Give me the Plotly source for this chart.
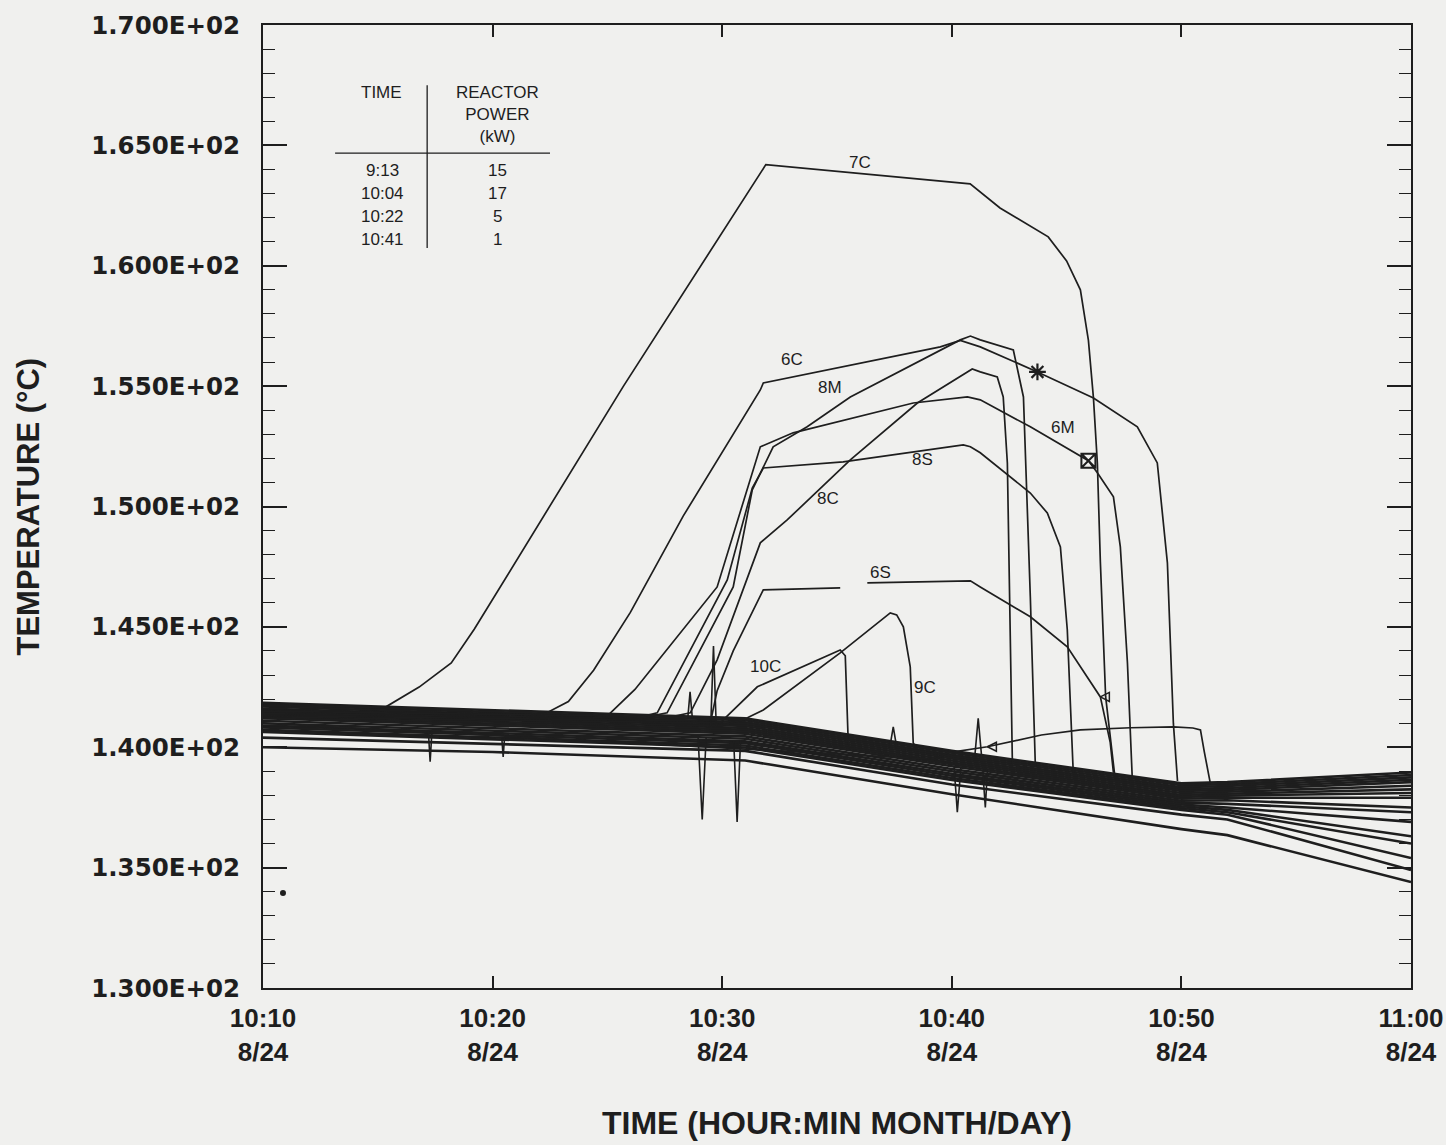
import plotly.graph_objects as go

# ---------------- data (minutes after 10:10, temperature in deg C) ----------------
tick_minutes = [0, 10, 20, 30, 40, 50]
tick_labels = ["10:10<br>8/24", "10:20<br>8/24", "10:30<br>8/24",
               "10:40<br>8/24", "10:50<br>8/24", "11:00<br>8/24"]
y_tick_values = [130, 135, 140, 145, 150, 155, 160, 165, 170]
y_tick_labels = ["1.300E+02", "1.350E+02", "1.400E+02", "1.450E+02", "1.500E+02",
                 "1.550E+02", "1.600E+02", "1.650E+02", "1.700E+02"]

# thermocouples that stay near the bulk temperature
TB = [0, 10, 21, 30, 40, 42, 50]
band_01 = [141.85, 141.55, 141.20, 139.85, 138.50, 138.55, 138.95]
band_02 = [141.77, 141.47, 141.12, 139.77, 138.42, 138.47, 138.85]
band_03 = [141.69, 141.39, 141.04, 139.69, 138.34, 138.39, 138.75]
band_04 = [141.61, 141.31, 140.96, 139.61, 138.26, 138.31, 138.65]
band_05 = [141.53, 141.23, 140.88, 139.53, 138.18, 138.23, 138.55]
band_06 = [141.45, 141.15, 140.80, 139.45, 138.10, 138.15, 138.40]
band_07 = [141.37, 141.07, 140.72, 139.37, 138.02, 138.07, 138.25]
band_08 = [141.29, 140.99, 140.64, 139.29, 137.94, 137.99, 138.10]
band_09 = [141.21, 140.91, 140.56, 139.21, 137.86, 137.90, 137.90]
band_10 = [141.10, 140.80, 140.45, 139.10, 137.78, 137.80, 137.50]
band_11 = [141.00, 140.70, 140.35, 139.00, 137.70, 137.65, 137.30]
band_12 = [140.90, 140.60, 140.25, 138.90, 137.62, 137.50, 136.90]
band_13 = [140.82, 140.52, 140.17, 138.82, 137.55, 137.40, 136.30]
band_14 = [140.72, 140.42, 140.07, 138.72, 137.48, 137.30, 136.00]
band_15 = [140.64, 140.34, 139.99, 138.64, 137.40, 137.20, 135.40]
band_16 = [140.40, 140.15, 139.85, 138.45, 137.20, 137.00, 134.90]
band_17 = [140.00, 139.80, 139.45, 138.05, 136.60, 136.35, 134.40]

# labelled thermocouples
t_7C = [0, 5.3, 6.8, 8.2, 9.2, 14.7, 15.7, 21.9, 30.8, 32.1, 34.2, 35.0, 35.6, 35.95, 36.17, 36.34, 36.47, 36.7, 37.1]
T_7C = [141.75, 141.65, 142.5, 143.5, 144.9, 153.4, 155.0, 164.2, 163.4, 162.4, 161.2, 160.2, 159.0, 156.9, 154.5, 151.8, 147.7, 142.1, 138.8]

t_6C = [0, 12.2, 13.3, 14.4, 16.0, 18.3, 21.66, 21.79, 29.5, 30.37, 31.24, 33.73, 36.17, 38.08, 38.95, 39.39, 39.65, 39.83]
T_6C = [141.55, 141.35, 141.9, 143.2, 145.6, 149.6, 154.84, 155.13, 156.63, 156.9, 156.63, 155.59, 154.51, 153.31, 151.81, 147.66, 141.0, 138.6]

t_8M = [0, 16.4, 17.6, 20.48, 21.31, 22.22, 23.70, 25.58, 30.37, 30.81, 31.24, 32.68, 33.12, 33.42, 33.64]
T_8M = [141.45, 141.2, 141.43, 146.66, 150.69, 152.48, 153.31, 154.55, 156.92, 157.08, 156.92, 156.50, 154.55, 146.25, 139.2]

t_6M = [0, 15.0, 16.2, 19.78, 21.66, 22.40, 23.09, 28.32, 30.68, 31.24, 33.42, 35.95, 36.34, 37.04, 37.34, 37.65, 37.86]
T_6M = [141.5, 141.3, 142.4, 146.66, 152.48, 152.77, 153.06, 154.30, 154.55, 154.43, 153.31, 151.9, 151.40, 150.40, 148.32, 143.5, 138.7]

t_8S = [0, 16.2, 17.17, 20.22, 21.31, 21.79, 25.27, 30.5, 30.81, 31.24, 33.42, 34.16, 34.73, 35.03, 35.29]
T_8S = [141.4, 141.2, 141.43, 146.95, 150.77, 151.60, 151.85, 152.56, 152.48, 152.23, 150.56, 149.73, 148.32, 144.88, 138.94]

t_8C = [0, 17.2, 18.61, 19.78, 21.66, 22.83, 25.58, 28.50, 30.89, 31.24, 31.98, 32.24, 32.42, 32.64]
T_8C = [141.35, 141.15, 141.43, 143.63, 148.49, 149.44, 151.94, 154.30, 155.71, 155.59, 155.38, 154.55, 151.81, 139.3]

t_6S = [0, 18.9, 19.48, 19.78, 20.48, 21.79, 25.14, None, 26.32, 30.81, 31.24, 33.42, 35.03, 36.47, 36.9, 37.04]
T_6S = [141.3, 141.1, 141.0, 142.35, 144.0, 146.54, 146.62, None, 146.83, 146.91, 146.66, 145.42, 144.17, 142.09, 140.2, 138.94]

t_10C = [0, 19.0, 19.91, 21.53, 25.14, 25.36, 25.49, 25.6]
T_10C = [141.25, 141.05, 141.01, 142.51, 144.04, 143.8, 140.2, 139.9]

t_9C = [0, 19.9, 20.92, 21.79, 25.14, 27.32, 27.6, 27.89, 28.19, 28.32, 28.5]
T_9C = [141.2, 140.9, 141.14, 141.55, 143.92, 145.58, 145.5, 145.0, 143.34, 140.18, 139.9]

# unlabelled late riser
t_late = [0, 29.3, 29.80, 31.55, 33.9, 35.60, 37.78, 39.65, 40.5, 40.83, 41.0, 41.26]
T_late = [141.0, 139.5, 139.77, 140.02, 140.51, 140.72, 140.81, 140.85, 140.8, 140.72, 139.8, 138.5]

# short signal spikes
spike_t = [7.2, 7.28, 7.36, None, 10.4, 10.46, 10.52, None, 18.5, 18.6, 18.7, None,
           18.95, 19.13, 19.3, None, 19.5, 19.62, 19.74, None, 20.5, 20.65, 20.8, None,
           27.3, 27.45, 27.6, None, 30.1, 30.24, 30.4, None, 31.0, 31.15, 31.3, None,
           31.35, 31.46, 31.55]
spike_T = [140.7, 139.4, 140.7, None, 140.4, 139.6, 140.4, None, 141.2, 142.3, 141.2, None,
           140.4, 137.0, 140.4, None, 140.9, 144.2, 140.9, None, 140.3, 136.9, 140.3, None,
           140.0, 140.85, 140.0, None, 139.2, 137.3, 139.2, None, 139.6, 141.2, 139.6, None,
           139.0, 137.5, 139.0]

stray_t = [0.87]
stray_T = [133.95]

# inset table
table_time = ["9:13", "10:04", "10:22", "10:41"]
table_power = ["15", "17", "5", "1"]

# ---------------- style / layout ----------------
INK = "#1e1e1e"
BG = "#f0f0ee"
W, H = 1446, 1145
L, R, T, B = 263, 35, 25, 157

fig = go.Figure()

band_lines = [band_01, band_02, band_03, band_04, band_05, band_06, band_07, band_08,
              band_09, band_10, band_11, band_12, band_13, band_14, band_15, band_16, band_17]
for vals in band_lines:
    fig.add_trace(go.Scatter(x=TB, y=vals, mode="lines",
                             line=dict(color=INK, width=2.6), hoverinfo="skip"))

curves = [("7C", t_7C, T_7C), ("6C", t_6C, T_6C), ("8M", t_8M, T_8M), ("6M", t_6M, T_6M),
          ("8S", t_8S, T_8S), ("8C", t_8C, T_8C), ("6S", t_6S, T_6S), ("10C", t_10C, T_10C),
          ("9C", t_9C, T_9C), ("late", t_late, T_late)]
for name, tx, ty in curves:
    fig.add_trace(go.Scatter(x=tx, y=ty, mode="lines", name=name,
                             line=dict(color=INK, width=1.7), connectgaps=False))

fig.add_trace(go.Scatter(x=spike_t, y=spike_T, mode="lines",
                         line=dict(color=INK, width=1.6), connectgaps=False))
fig.add_trace(go.Scatter(x=stray_t, y=stray_T, mode="markers",
                         marker=dict(color=INK, size=6)))

# point markers attached to curves
fig.add_trace(go.Scatter(x=[t_6C[11]], y=[T_6C[11]], mode="markers",
                         marker=dict(symbol="asterisk-open", size=14, color=INK,
                                     line=dict(color=INK, width=2.2))))
fig.add_trace(go.Scatter(x=[t_6M[11]], y=[T_6M[11]], mode="markers",
                         marker=dict(symbol="square-x-open", size=14, color=INK,
                                     line=dict(color=INK, width=2))))
fig.add_trace(go.Scatter(x=[t_6S[13]], y=[T_6S[13]], mode="markers",
                         marker=dict(symbol="arrow-left-open", size=9, color=INK,
                                     line=dict(color=INK, width=1.5))))
fig.add_trace(go.Scatter(x=[t_late[3]], y=[T_late[3]], mode="markers",
                         marker=dict(symbol="arrow-left-open", size=9, color=INK,
                                     line=dict(color=INK, width=1.5))))

# curve labels
label_pos = {"7C": (26.0, 164.3), "6C": (23.05, 156.1), "8M": (24.7, 154.95),
             "6M": (34.86, 153.3), "8S": (28.71, 151.95), "8C": (24.62, 150.35),
             "6S": (26.88, 147.25), "10C": (21.87, 143.35), "9C": (28.85, 142.5)}
annotations = []
for name, (lx, ly) in label_pos.items():
    annotations.append(dict(x=lx, y=ly, text=name, showarrow=False,
                            font=dict(family="Liberation Sans, Arial, sans-serif", size=17, color=INK)))

# table text
tfont = dict(family="Liberation Sans, Arial, sans-serif", size=17, color=INK)
annotations.append(dict(x=5.14, y=167.18, text="TIME", showarrow=False, font=tfont))
annotations.append(dict(x=10.2, y=166.28, text="REACTOR<br>POWER<br>(kW)", showarrow=False,
                        font=tfont))
for i, (tt, pw) in enumerate(zip(table_time, table_power)):
    ry = 163.94 - 0.955 * i
    annotations.append(dict(x=5.19, y=ry, text=tt, showarrow=False, font=tfont))
    annotations.append(dict(x=10.2, y=ry, text=pw, showarrow=False, font=tfont))

# axis titles
annotations.append(dict(xref="paper", yref="paper", x=-0.2047, y=0.5, textangle=-90,
                        xanchor="center", yanchor="middle",
                        text="<b>TEMPERATURE (°C)</b>", showarrow=False,
                        font=dict(family="Liberation Sans, Arial, sans-serif", size=31, color=INK)))
annotations.append(dict(xref="paper", yref="paper", x=0.5, y=-0.1605,
                        xanchor="center", yanchor="bottom",
                        text="<b>TIME (HOUR:MIN MONTH/DAY)</b>", showarrow=False,
                        font=dict(family="Liberation Sans, Arial, sans-serif",
                                  size=32, color=INK)))

shapes = [
    dict(type="line", x0=3.14, x1=12.5, y0=164.68, y1=164.68, line=dict(color=INK, width=1.3)),
    dict(type="line", x0=7.15, x1=7.15, y0=167.5, y1=160.74, line=dict(color=INK, width=1.3)),
]

fig.update_layout(
    width=W, height=H,
    margin=dict(l=L, r=R, t=T, b=B, pad=0, autoexpand=False),
    paper_bgcolor=BG, plot_bgcolor=BG,
    showlegend=False,
    annotations=annotations,
    shapes=shapes,
)
fig.update_xaxes(range=[0, 50], tickvals=tick_minutes, automargin=False,
                 ticktext=["<b>" + s.replace("<br>", "</b><br><b>") + "</b>" for s in tick_labels],
                 ticks="inside", ticklen=12, tickwidth=1.6, tickcolor=INK,
                 showline=True, linecolor=INK, linewidth=2, mirror="ticks",
                 showgrid=False, zeroline=False, ticklabelstandoff=6,
                 tickfont=dict(family="Liberation Sans, Arial, sans-serif",
                               size=26, color=INK))
fig.update_yaxes(range=[130, 170], tickvals=y_tick_values, automargin=False,
                 ticktext=["<b>" + s + "</b>" for s in y_tick_labels],
                 ticks="inside", ticklen=24, tickwidth=1.6, tickcolor=INK,
                 minor=dict(dtick=1, ticks="inside", ticklen=12, tickwidth=1.4, tickcolor=INK,
                            showgrid=False),
                 showline=True, linecolor=INK, linewidth=2, mirror="ticks",
                 showgrid=False, zeroline=False, ticklabelstandoff=16,
                 tickfont=dict(family="DejaVu Sans, sans-serif", size=24.5, color=INK))

fig.write_html("out.html", config={"displayModeBar": False},
               post_script="document.body.style.margin='0px';"
                           "document.body.style.background='" + BG + "';")
